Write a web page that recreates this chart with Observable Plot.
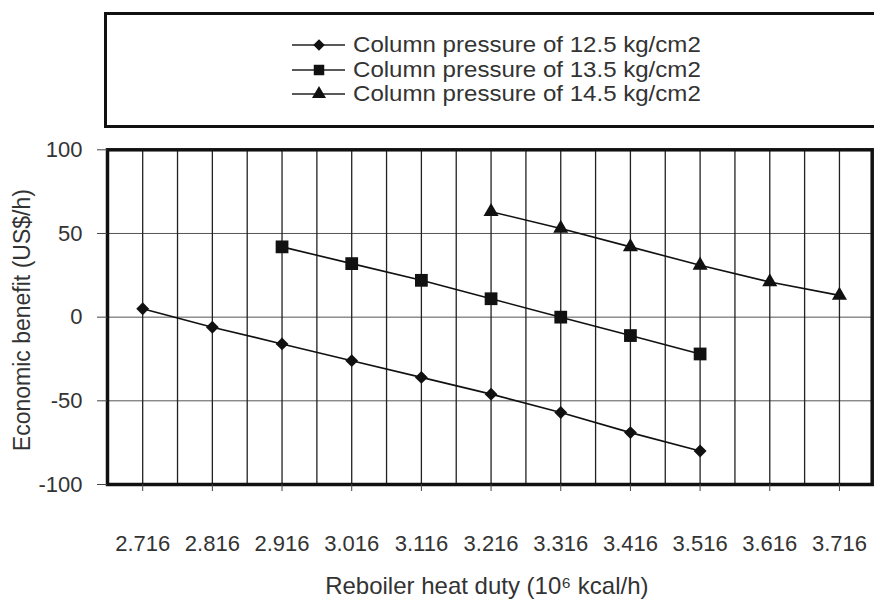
<!DOCTYPE html>
<html>
<head>
<meta charset="utf-8">
<script src="https://cdn.jsdelivr.net/npm/d3@7"></script>
<script src="https://cdn.jsdelivr.net/npm/@observablehq/plot@0.6"></script>
<style>
  html, body { margin: 0; padding: 0; background: #fff; }
  body { width: 874px; height: 605px; overflow: hidden; font-family: "Liberation Sans", Arial, sans-serif; color: #333; }
  #legend { position: relative; height: 135px; }
  #legend .box { position: absolute; left: 104px; top: 12px; width: 800px; height: 110px; border: 3px solid #111; box-sizing: content-box; }
  #legend .row { position: absolute; left: 292px; height: 24px; display: flex; align-items: center; white-space: nowrap; }
  #legend .row svg { margin-right: 8px; flex: none; }
  #legend .row span { font-size: 21.3px; line-height: 24px; display: inline-block; transform: scaleX(1.13); transform-origin: left center; }
  #chart svg { display: block; }
</style>
</head>
<body>
<div id="legend"></div>
<div id="chart"></div>
<script>
// ---- data ----
const heatDuty = [2.716, 2.816, 2.916, 3.016, 3.116, 3.216, 3.316, 3.416, 3.516, 3.616, 3.716];
const seriesNames = ["Column pressure of 12.5 kg/cm2", "Column pressure of 13.5 kg/cm2", "Column pressure of 14.5 kg/cm2"];
const benefit125 = [5, -6, -16, -26, -36, -46, -57, -69, -80];   // x: 2.716 .. 3.516
const benefit135 = [42, 32, 22, 11, 0, -11, -22];                // x: 2.916 .. 3.516
const benefit145 = [63, 53, 42, 31, 21, 13];                     // x: 3.216 .. 3.716
const yTicks = [-100, -50, 0, 50, 100];

const s125 = benefit125.map((v, i) => ({x: heatDuty[i], y: v}));
const s135 = benefit135.map((v, i) => ({x: heatDuty[i + 2], y: v}));
const s145 = benefit145.map((v, i) => ({x: heatDuty[i + 5], y: v}));
const xGrid = d3.range(21).map(i => heatDuty[0] + i * 0.05);

// ---- legend (HTML, above the SVG) ----
const legend = d3.select("#legend");
legend.append("div").attr("class", "box");
const symbols = [
  {sym: d3.symbolDiamond2, size: 85},
  {sym: d3.symbolSquare, size: 110},
  {sym: d3.symbolTriangle, size: 85}
];
const rowCenters = [45, 70, 94];
seriesNames.forEach((name, i) => {
  const row = legend.append("div").attr("class", "row").style("top", (rowCenters[i] - 12) + "px");
  const s = row.append("svg").attr("width", 53).attr("height", 24);
  s.append("line").attr("x1", 0).attr("x2", 53).attr("y1", 12).attr("y2", 12).attr("stroke", "#222").attr("stroke-width", 1.6);
  s.append("path").attr("d", d3.symbol(symbols[i].sym, symbols[i].size)()).attr("transform", "translate(27,12)").attr("fill", "#111");
  row.append("span").text(name);
});

// ---- chart ----
const font = "Liberation Sans, Arial, sans-serif";
const chart = Plot.plot({
  width: 874,
  height: 470,
  marginTop: 14.3,
  marginBottom: 121,
  marginLeft: 107,
  marginRight: 2.3,
  style: {fontFamily: font, color: "#333", background: "#fff"},
  x: {type: "linear", domain: [2.6655, 3.763]},
  y: {domain: [-100, 100]},
  marks: [
    Plot.ruleY([-50, 0, 50], {stroke: "#555", strokeWidth: 1}),
    Plot.ruleX(xGrid, {stroke: "#222", strokeWidth: 1.3}),
    Plot.line(s125, {x: "x", y: "y", stroke: "#111", strokeWidth: 1.6}),
    Plot.line(s135, {x: "x", y: "y", stroke: "#111", strokeWidth: 1.6}),
    Plot.line(s145, {x: "x", y: "y", stroke: "#111", strokeWidth: 1.6}),
    Plot.dot(s125, {x: "x", y: "y", symbol: "diamond2", r: 5.8, fill: "#111", stroke: null}),
    Plot.dot(s135, {x: "x", y: "y", symbol: "square", r: 7.2, fill: "#111", stroke: null}),
    Plot.dot(s145, {x: "x", y: "y", symbol: "triangle", r: 5.6, fill: "#111", stroke: null}),
    Plot.frame({stroke: "#111", strokeWidth: 3.5}),
    Plot.axisY({ticks: yTicks, tickSize: 10, tickPadding: 15, fontSize: 22, tickFormat: d => String(d), stroke: "#444", label: null}),
    Plot.axisX({ticks: heatDuty, tickSize: 7, tickPadding: 44, fontSize: 22, tickFormat: d => d.toFixed(3), stroke: "#444", label: null}),
    Plot.text(["Reboiler heat duty (10⁶ kcal/h)"], {frameAnchor: "bottom", dy: 109, dx: -3, fontSize: 24, fill: "#333"}),
    Plot.text(["Economic benefit (US$/h)"], {frameAnchor: "left", textAnchor: "middle", dx: -85, dy: 3, rotate: -90, fontSize: 23, fill: "#333"})
  ]
});
document.getElementById("chart").appendChild(chart);
</script>
</body>
</html>
